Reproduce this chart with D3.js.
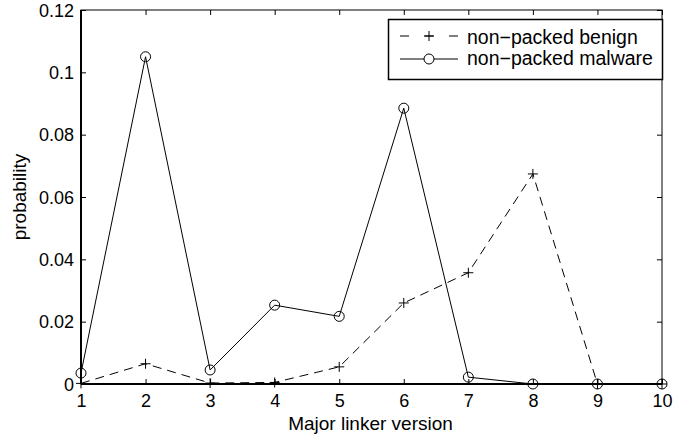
<!DOCTYPE html>
<html><head><meta charset="utf-8">
<script src="https://cdn.jsdelivr.net/npm/d3@7"></script>
<style>body{margin:0;background:#fff}svg{display:block}text{font-family:"Liberation Sans",Arial,sans-serif;fill:#000}</style>
</head><body>
<svg id="c" width="673" height="440"></svg>
<script>
const versions = [1,2,3,4,5,6,7,8,9,10];
const benign  = [0.0002,0.0065,0.0003,0.0005,0.0055,0.026,0.0357,0.0674,0,0];
const malware = [0.0035,0.105,0.0045,0.0253,0.0217,0.0885,0.0022,0,0,0];
const yTicks = [0,0.02,0.04,0.06,0.08,0.1,0.12];
const yTickLabels = ["0","0.02","0.04","0.06","0.08","0.1","0.12"];
const seriesNames = ["non\u2212packed benign","non\u2212packed malware"];

const FS = 18, LFS = 19, GFS = 19.5;
const svg = d3.select("#c");
const L=81,R=662,T=10,B=384;
const x = d3.scaleLinear().domain([1,10]).range([L,R]);
const y = d3.scaleLinear().domain([0,0.12]).range([B,T]);

const g = svg.append("g");
g.append("rect").attr("x",L).attr("y",T).attr("width",R-L).attr("height",B-T)
 .attr("fill","none").attr("stroke","#000").attr("stroke-width",1);
g.append("line").attr("x1",L).attr("x2",R).attr("y1",B).attr("y2",B).attr("stroke","#000").attr("stroke-width",2);
g.append("line").attr("x1",L).attr("x2",L).attr("y1",T).attr("y2",B).attr("stroke","#000").attr("stroke-width",2);

const xAxis = d3.axisBottom(x).tickValues(versions).tickFormat(d3.format("d")).tickSizeInner(-5).tickSizeOuter(0).tickPadding(10);
const xa = svg.append("g").attr("transform",`translate(0,${B})`).call(xAxis);
const xTop = d3.axisTop(x).tickValues(versions).tickFormat("").tickSizeInner(-5).tickSizeOuter(0);
const xt = svg.append("g").attr("transform",`translate(0,${T})`).call(xTop);
const yAxis = d3.axisLeft(y).tickValues(yTicks).tickFormat((d,i)=>yTickLabels[i]).tickSizeInner(-5).tickSizeOuter(0).tickPadding(7);
const ya = svg.append("g").attr("transform",`translate(${L},0)`).call(yAxis);
const yRight = d3.axisRight(y).tickValues(yTicks).tickFormat("").tickSizeInner(-5).tickSizeOuter(0);
const yr = svg.append("g").attr("transform",`translate(${R},0)`).call(yRight);
[xa,xt,ya,yr].forEach(a=>{a.select(".domain").remove();a.selectAll("line").attr("stroke","#000");
  a.attr("font-size",FS).attr("font-family","Liberation Sans, Arial, sans-serif");
  a.selectAll("text").attr("fill","#000");});
xa.selectAll("text").attr("dy","0.71em");
ya.selectAll("text").attr("dy","0.35em");

svg.append("text").attr("x",(L+R)/2 - 1).attr("y",430).attr("text-anchor","middle").attr("font-size",LFS).text("Major linker version");
svg.append("text").attr("transform",`translate(26,${(T+B)/2}) rotate(-90)`).attr("text-anchor","middle").attr("font-size",LFS).text("probability");

const line = d3.line().x((d,i)=>x(versions[i])).y(d=>y(d));
const plot = svg.append("g");
plot.append("path").datum(benign).attr("d",line).attr("fill","none").attr("stroke","#000").attr("stroke-width",1).attr("stroke-dasharray","9,6");
plot.append("path").datum(malware).attr("d",line).attr("fill","none").attr("stroke","#000").attr("stroke-width",1);

function plus(sel,cx,cy){sel.append("path").attr("d",`M${cx-5},${cy}H${cx+5}M${cx},${cy-5}V${cy+5}`).attr("stroke","#000").attr("stroke-width",1).attr("fill","none");}
benign.forEach((d,i)=>plus(plot,x(versions[i]),y(d)));
plot.selectAll("circle.m").data(malware).enter().append("circle").attr("class","m")
 .attr("cx",(d,i)=>x(versions[i])).attr("cy",d=>y(d)).attr("r",5).attr("fill","none").attr("stroke","#000").attr("stroke-width",1);

const lg = svg.append("g");
lg.append("rect").attr("x",388.5).attr("y",19.5).attr("width",274).attr("height",60).attr("fill","#fff").attr("stroke","#000").attr("stroke-width",1.5);
const ly1=36, ly2=59;
lg.append("line").attr("x1",400).attr("x2",458).attr("y1",ly1).attr("y2",ly1).attr("stroke","#000").attr("stroke-dasharray","9,15.5");
plus(lg,429,ly1);
lg.append("line").attr("x1",400).attr("x2",458).attr("y1",ly2).attr("y2",ly2).attr("stroke","#000");
lg.append("circle").attr("cx",429).attr("cy",ly2).attr("r",5).attr("fill","#fff").attr("stroke","#000");
lg.append("text").attr("x",467).attr("y",43.5).attr("font-size",GFS).text(seriesNames[0]);
lg.append("text").attr("x",467).attr("y",65).attr("font-size",GFS).text(seriesNames[1]);
</script>
</body></html>
